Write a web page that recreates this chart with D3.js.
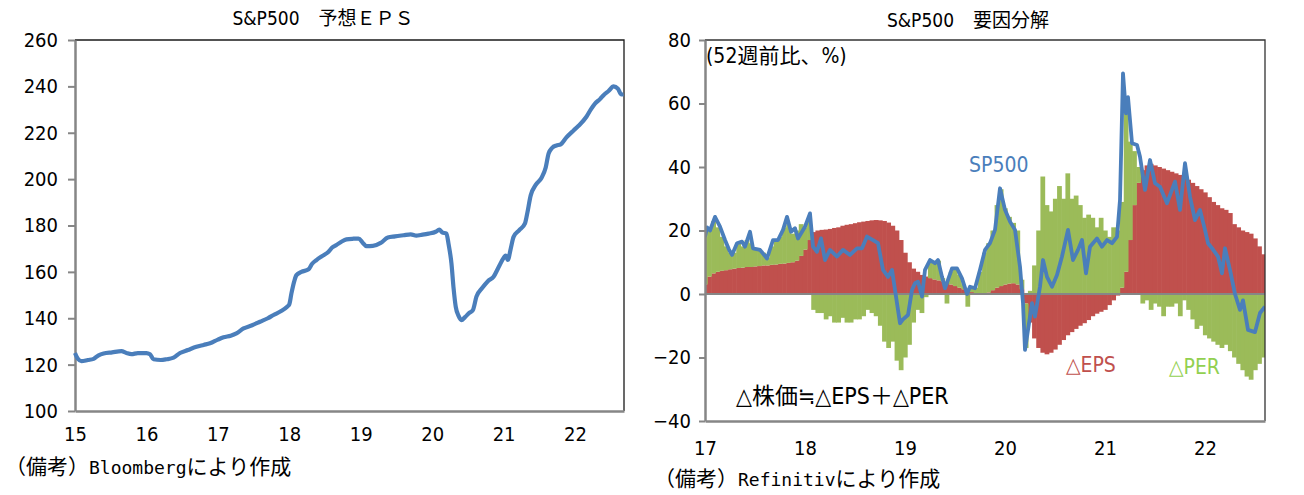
<!DOCTYPE html>
<html>
<head>
<meta charset="utf-8">
<script src="https://cdn.jsdelivr.net/npm/d3@7"></script>
<style>
  body { margin: 0; background: #fff; }
  text { font-family: "DejaVu Sans Condensed", "DejaVu Sans", "Noto Sans CJK JP", sans-serif; fill: #000; }
  .mono { font-family: "DejaVu Sans Mono", monospace; }
  .jp { font-family: "Noto Sans CJK JP", sans-serif; }
</style>
</head>
<body>
<svg id="chart" width="1304" height="495"></svg>
<script>
// ---------- left chart: S&P500 forecast EPS ----------
const epsYears = [2015,2016,2017,2018,2019,2020,2021,2022];
const epsTicks = [100,120,140,160,180,200,220,240,260];
const epsDates = [
  2015.00,2015.04,2015.09,2015.18,2015.26,2015.33,2015.40,2015.52,2015.65,2015.72,2015.79,2015.88,
  2016.00,2016.05,2016.10,2016.20,2016.28,2016.38,2016.47,2016.58,2016.70,2016.80,2016.89,
  2017.00,2017.08,2017.18,2017.26,2017.36,2017.48,2017.59,2017.70,2017.78,2017.88,2017.97,
  2018.00,2018.03,2018.07,2018.10,2018.17,2018.27,2018.32,2018.38,2018.47,2018.55,2018.60,2018.66,2018.73,2018.80,2018.90,2018.97,
  2019.03,2019.08,2019.17,2019.28,2019.38,2019.48,2019.60,2019.70,2019.78,2019.84,2019.95,
  2020.05,2020.10,2020.14,2020.20,2020.23,2020.27,2020.30,2020.33,2020.37,2020.41,2020.46,2020.52,2020.57,2020.62,2020.70,2020.78,2020.86,2020.93,
  2021.00,2021.03,2021.06,2021.10,2021.14,2021.22,2021.30,2021.33,2021.38,2021.45,2021.53,2021.59,2021.63,2021.68,2021.74,2021.80,2021.88,2021.98,
  2022.05,2022.16,2022.22,2022.28,2022.35,2022.40,2022.47,2022.54,2022.60,2022.65,2022.68
];
const epsValues = [
  125,122.5,121.5,122,122.5,124,124.8,125.3,125.8,125,124.5,125,
  125,124.5,122.3,122,122.3,123,125,126.3,127.7,128.5,129.2,
  130.8,131.8,132.5,133.5,135.6,137,138.5,140,141.4,143,145,
  146,150.7,156,158.6,160,161.1,163.5,165.1,167,168.7,170.5,171.6,173,174,174.3,174.4,
  172.5,171.1,171.2,172.5,174.8,175.3,175.8,176.2,175.6,175.9,176.5,
  177.3,178.2,177,176.5,172,163.7,153,145,141,139.2,140.5,142.3,143.5,149.3,153,156,157.9,162,
  166,167,165.2,170,175.1,178,180.9,185,193,197.5,200.5,205,211,213.5,214.5,215,218,221,
  223,226.9,230,232.6,234.5,236.2,238,240,239,236.5,236.6
];

// ---------- right chart: factor decomposition (52-week change, %) ----------
const decYears = [2017,2018,2019,2020,2021,2022];
const decTicks = [-40,-20,0,20,40,60,80];
// half-monthly bars, one row per year
const epsContrib = [
  3,5.5,6.5,7,7.3,7.5,7.8,8,8.2,8.3,8.5,8.5,8.7,8.8,9,9,9.2,9.3,9.5,9.6,9.8,10,10.5,12,
  14,17,19.5,20,20.2,20.3,20.5,20.8,21,21.5,21.8,22,22.3,22.6,22.8,23,23.2,23.3,23.2,23,22.5,21.5,20,17,
  13,10,8,7,6,5.5,5,4.6,4.3,4,3.5,3,2.5,2,1.5,1,0.6,0.3,0,0,0.5,1.2,2,2.5,
  3,3.3,3.4,3,1.5,-3,-9,-14,-17,-18.5,-19,-18.5,-17.5,-16,-14.5,-13,-12,-11,-10,-9.2,-8.2,-7,-6.2,-5.6,
  -5,-3.5,-2,-0.5,2,7,17,28,35,39,40.5,41,40.5,40,39.5,39,38.5,38,37.5,37,36,35,34,33,
  32,30.5,29,28,27,26.5,25.5,22,21,20,19.5,19,17.5,15,12.5
];
const perContrib = [
  15,14.5,16.5,14,10.7,7.5,5.2,5,7.7,6.7,8.5,7.5,5.3,5.2,4,2.5,5.8,7.7,8.5,11.4,12.2,9,9.5,10,
  7,6,-5,-6,-6,-8,-7,-9,-9,-7.5,-9,-9,-8,-8,-7,-5,-6,-7,-10,-15,-17,-15,-21,-24,
  -20,-16,-9,-5,-6,-1,5.5,5,6.2,1,-3,4,5.5,4,1.5,-4,1.4,1.7,7,13,15.5,18.8,26,30.5,
  24,21,19,17,3,-14,1,9,20,37,28,26,30,34,30,38,30,31,28,24,25,24,21,24,
  20,18,21,20,27,50,31,17,5,-3,-2,-5,-3,-4,-7,-4,-4,-3,-7,-2,-5,-8,-11,-10,
  -13,-14,-15,-16,-17,-16,-18,-20,-22,-24,-26,-27,-24,-22,-20
];
const spDates = [
  2017.00,2017.02,2017.05,2017.10,2017.15,2017.20,2017.24,2017.27,2017.32,2017.37,2017.40,2017.45,2017.48,2017.55,2017.62,2017.68,2017.73,2017.78,2017.82,2017.86,2017.90,2017.93,
  2018.00,2018.05,2018.08,2018.12,2018.16,2018.20,2018.25,2018.32,2018.38,2018.45,2018.52,2018.57,2018.62,2018.68,2018.73,2018.78,2018.83,2018.87,2018.90,2018.95,2018.98,
  2019.03,2019.07,2019.10,2019.13,2019.17,2019.20,2019.25,2019.30,2019.33,2019.37,2019.40,2019.47,2019.52,2019.57,2019.62,2019.65,2019.70,2019.75,2019.80,2019.85,2019.90,2019.95,
  2020.00,2020.05,2020.10,2020.15,2020.18,2020.20,2020.23,2020.27,2020.30,2020.35,2020.38,2020.42,2020.47,2020.52,2020.57,2020.63,2020.68,2020.73,2020.77,2020.81,2020.85,2020.92,2020.97,
  2021.02,2021.07,2021.12,2021.15,2021.18,2021.21,2021.23,2021.27,2021.32,2021.35,2021.40,2021.45,2021.50,2021.55,2021.62,2021.70,2021.75,2021.80,2021.85,2021.90,2021.95,
  2022.00,2022.03,2022.08,2022.13,2022.17,2022.20,2022.25,2022.30,2022.35,2022.38,2022.43,2022.50,2022.55,2022.60
];
const spValues = [
  18,21,20,24.3,21.2,17,14,12.3,16,16.5,14.9,19.6,14.4,13.9,11.2,17,17,20.2,24.3,19.6,20.7,17.5,
  21.2,25.4,14.9,13.3,17.5,10.7,13.9,11.8,13.9,12.3,14.4,14.4,18.1,17,16,7.6,5.4,7.6,1.3,-9.2,-8,
  -6.6,1.3,3.4,3.9,-0.8,7.6,10.7,9.7,10.7,5.4,1.8,8.1,8.1,4.9,0,2.3,1.8,7.6,13.9,16,20.2,33.3,
  26.5,22.8,20.2,8.6,-2.9,-17.6,-11.3,-2.9,-7.1,2.3,10.7,5.4,2.3,6,11.8,20.2,10.7,13.9,17,6.5,14.9,17.5,14.9,
  17,16,18,29.6,69.5,56.9,62,47.5,46.9,43.2,32.8,42.2,34.9,33.8,28.6,35.4,26.5,41.2,30.6,23.3,26.5,
  20.2,16,14,11.8,6.5,14.4,7.6,0,-5,-2,-11.3,-12,-6,-4
];

const colors = { line: '#4a7ebb', eps: '#c0504d', per: '#9bbb59', perLabel: '#92d050', axis: '#868686' };

const svg = d3.select('#chart');

function styleAxis(g) {
  g.select('.domain').attr('stroke', colors.axis).attr('stroke-width', 2.5);
  g.selectAll('.tick line').attr('stroke', colors.axis).attr('stroke-width', 2);
  g.selectAll('.tick text').attr('font-size', 20).attr('fill', '#000')
    .style('font-family', '"DejaVu Sans Condensed","DejaVu Sans",sans-serif');
}

// ===== left chart =====
{
  const m = { left: 75, right: 624, top: 40, bottom: 411 };
  const x = d3.scaleLinear().domain([2015, 2022.686]).range([m.left, m.right]);
  const y = d3.scaleLinear().domain([100, 260]).range([m.bottom, m.top]);

  svg.append('path')
    .attr('d', `M${m.left},${m.top}H${m.right}V${m.bottom}`)
    .attr('fill', 'none').attr('stroke', '#1a1a1a').attr('stroke-width', 1.3);

  svg.append('g')
    .attr('transform', `translate(${m.left},0)`)
    .call(d3.axisLeft(y).tickValues(epsTicks).tickSize(7).tickPadding(10).tickSizeOuter(0))
    .call(styleAxis);

  svg.append('g')
    .attr('transform', `translate(0,${m.bottom})`)
    .call(d3.axisBottom(x).tickValues(epsYears).tickSize(0).tickPadding(16).tickFormat(d => String(d % 100)))
    .call(styleAxis);

  const line = d3.line()
    .x((d, i) => x(epsDates[i]))
    .y(d => y(d))
    .curve(d3.curveMonotoneX);

  svg.append('path')
    .datum(epsValues)
    .attr('d', line)
    .attr('fill', 'none')
    .attr('stroke', colors.line)
    .attr('stroke-width', 4.2)
    .attr('stroke-linejoin', 'round');

  svg.append('text')
    .attr('x', 323).attr('y', 25).attr('text-anchor', 'middle').attr('font-size', 19)
    .text('S&P500　予想ＥＰＳ');

  const foot = svg.append('text').attr('x', 5).attr('y', 474).attr('font-size', 21);
  foot.append('tspan').attr('class', 'jp').text('（備考）');
  foot.append('tspan').attr('class', 'mono').attr('font-size', 18).text('Bloomberg');
  foot.append('tspan').attr('class', 'jp').text('により作成');
}

// ===== right chart =====
{
  const m = { left: 705, right: 1265, top: 40, bottom: 421 };
  const x = d3.scaleLinear().domain([2017, 2022.6]).range([m.left, m.right]);
  const y = d3.scaleLinear().domain([-40, 80]).range([m.bottom, m.top]);

  svg.append('defs').append('clipPath').attr('id', 'clipR')
    .append('rect').attr('x', m.left).attr('y', m.top)
    .attr('width', m.right - m.left).attr('height', m.bottom - m.top);

  const rows = epsContrib.map((v, i) => ({
    date: decYears[0] + i / 24,
    eps: v,
    per: perContrib[i]
  }));

  const stack = d3.stack()
    .keys(['eps', 'per'])
    .offset(d3.stackOffsetDiverging);
  const series = stack(rows);

  const bw = x(2017 + 1 / 24) - x(2017);
  const plot = svg.append('g').attr('clip-path', 'url(#clipR)');

  plot.selectAll('.layer')
    .data(series)
    .join('g')
      .attr('class', 'layer')
      .attr('fill', d => d.key === 'eps' ? colors.eps : colors.per)
    .selectAll('rect')
    .data(d => d)
    .join('rect')
      .attr('x', d => x(d.data.date) - bw / 2)
      .attr('width', bw + 0.6)
      .attr('y', d => y(Math.max(d[0], d[1])))
      .attr('height', d => Math.abs(y(d[0]) - y(d[1])));

  // zero line
  plot.append('line')
    .attr('x1', m.left).attr('x2', m.right)
    .attr('y1', y(0)).attr('y2', y(0))
    .attr('stroke', colors.axis).attr('stroke-width', 2);

  const line = d3.line()
    .x((d, i) => x(spDates[i]))
    .y(d => y(d));

  plot.append('path')
    .datum(spValues)
    .attr('d', line)
    .attr('fill', 'none')
    .attr('stroke', colors.line)
    .attr('stroke-width', 3.8)
    .attr('stroke-linejoin', 'round');

  svg.append('path')
    .attr('d', `M${m.left},${m.top}H${m.right}V${m.bottom}`)
    .attr('fill', 'none').attr('stroke', '#333').attr('stroke-width', 1.3);

  svg.append('g')
    .attr('transform', `translate(${m.left},0)`)
    .call(d3.axisLeft(y).tickValues(decTicks).tickSize(6).tickPadding(8).tickSizeOuter(0)
      .tickFormat(d => d < 0 ? '−' + Math.abs(d) : d))
    .call(styleAxis);

  svg.append('g')
    .attr('transform', `translate(0,${m.bottom})`)
    .call(d3.axisBottom(x).tickValues(decYears).tickSize(0).tickPadding(20).tickFormat(d => String(d % 100)))
    .call(styleAxis);

  svg.append('text')
    .attr('x', 968).attr('y', 27).attr('text-anchor', 'middle').attr('font-size', 19)
    .text('S&P500　要因分解');

  svg.append('text').attr('x', 706).attr('y', 63).attr('font-size', 21).text('(52週前比、%)');
  svg.append('text').attr('x', 969).attr('y', 172).attr('font-size', 21)
    .style('fill', colors.line).text('SP500');
  svg.append('text').attr('x', 1066).attr('y', 372).attr('font-size', 21)
    .style('fill', colors.eps).text('△EPS');
  svg.append('text').attr('x', 1169).attr('y', 374).attr('font-size', 21)
    .style('fill', colors.perLabel).text('△PER');
  svg.append('text').attr('x', 736).attr('y', 404).attr('font-size', 23).text('△株価≒△EPS＋△PER');

  const foot = svg.append('text').attr('x', 654).attr('y', 486).attr('font-size', 21);
  foot.append('tspan').attr('class', 'jp').text('（備考）');
  foot.append('tspan').attr('class', 'mono').attr('font-size', 18).text('Refinitiv');
  foot.append('tspan').attr('class', 'jp').text('により作成');
}
</script>
</body>
</html>
